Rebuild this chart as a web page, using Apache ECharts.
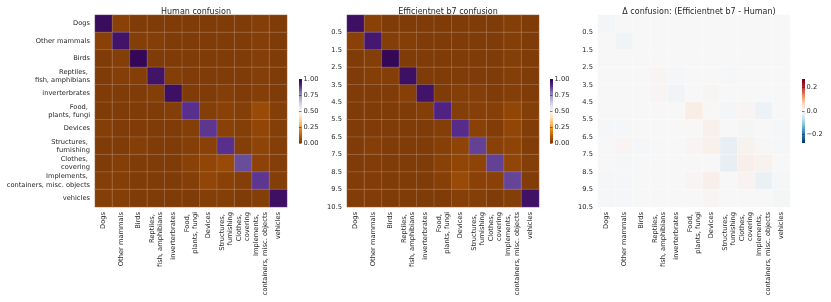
<!DOCTYPE html>
<html>
<head>
<meta charset="utf-8">
<script src="https://cdn.jsdelivr.net/npm/echarts@6/dist/echarts.min.js"></script>
<style>html,body{margin:0;padding:0;background:#fff}#c{width:831px;height:302px}</style>
</head>
<body>
<div id="c"></div>
<script>
// ---------------- data ----------------
const categories = ['Dogs', 'Other mammals', 'Birds', 'Reptiles, \nfish, amphibians', 'inverterbrates',
  'Food, \nplants, fungi', 'Devices', 'Structures, \nfurnishing', 'Clothes, \ncovering',
  'Implements, \ncontainers, misc. objects', 'vehicles'];

const titles = ['Human confusion', 'Efficientnet b7 confusion', '\u0394 confusion: (Efficientnet b7 - Human)'];

const boundaryLabels = ['0.5', '1.5', '2.5', '3.5', '4.5', '5.5', '6.5', '7.5', '8.5', '9.5', '10.5'];

const humanConfusion = [
  [0.97, 0.02, 0.00, 0.00, 0.00, 0.00, 0.00, 0.00, 0.00, 0.01, 0.00],
  [0.02, 0.95, 0.01, 0.01, 0.00, 0.00, 0.00, 0.00, 0.00, 0.01, 0.00],
  [0.00, 0.01, 0.98, 0.00, 0.00, 0.00, 0.00, 0.00, 0.00, 0.01, 0.00],
  [0.00, 0.01, 0.01, 0.95, 0.01, 0.00, 0.00, 0.00, 0.00, 0.01, 0.00],
  [0.00, 0.00, 0.00, 0.01, 0.96, 0.00, 0.00, 0.01, 0.00, 0.01, 0.00],
  [0.00, 0.00, 0.00, 0.00, 0.01, 0.89, 0.01, 0.02, 0.01, 0.05, 0.01],
  [0.01, 0.00, 0.00, 0.00, 0.00, 0.01, 0.88, 0.02, 0.01, 0.035, 0.01],
  [0.00, 0.00, 0.01, 0.00, 0.00, 0.01, 0.02, 0.89, 0.01, 0.03, 0.01],
  [0.00, 0.01, 0.00, 0.00, 0.00, 0.02, 0.035, 0.05, 0.85, 0.025, 0.01],
  [0.01, 0.01, 0.00, 0.00, 0.00, 0.01, 0.035, 0.02, 0.01, 0.88, 0.01],
  [0.01, 0.01, 0.00, 0.00, 0.00, 0.00, 0.01, 0.01, 0.00, 0.01, 0.96]
];

const effnetConfusion = [
  [0.96, 0.02, 0.00, 0.00, 0.00, 0.00, 0.00, 0.00, 0.00, 0.01, 0.00],
  [0.02, 0.94, 0.01, 0.01, 0.00, 0.00, 0.00, 0.00, 0.00, 0.01, 0.00],
  [0.00, 0.01, 0.98, 0.00, 0.00, 0.00, 0.00, 0.00, 0.00, 0.01, 0.00],
  [0.00, 0.01, 0.01, 0.96, 0.00, 0.00, 0.00, 0.00, 0.00, 0.01, 0.00],
  [0.00, 0.00, 0.00, 0.015, 0.95, 0.00, 0.01, 0.01, 0.00, 0.01, 0.00],
  [0.00, 0.00, 0.00, 0.00, 0.01, 0.91, 0.01, 0.015, 0.015, 0.035, 0.01],
  [0.00, 0.00, 0.00, 0.00, 0.00, 0.01, 0.895, 0.02, 0.005, 0.035, 0.005],
  [0.00, 0.01, 0.00, 0.00, 0.00, 0.015, 0.03, 0.865, 0.02, 0.03, 0.005],
  [0.00, 0.005, 0.00, 0.00, 0.00, 0.02, 0.035, 0.03, 0.865, 0.035, 0.01],
  [0.005, 0.005, 0.00, 0.00, 0.00, 0.015, 0.05, 0.02, 0.02, 0.86, 0.005],
  [0.005, 0.005, 0.00, 0.00, 0.00, 0.00, 0.015, 0.01, 0.00, 0.01, 0.955]
];

const deltaConfusion = [
  [-0.005, 0.000, 0.000, 0.000, 0.000, 0.000, 0.000, 0.000, 0.000, 0.000, 0.000],
  [0.000, -0.010, 0.000, 0.000, 0.000, 0.000, 0.000, 0.000, 0.000, 0.000, 0.000],
  [0.000, 0.000, 0.000, 0.000, 0.000, 0.000, 0.000, 0.000, 0.000, 0.000, 0.000],
  [0.000, 0.000, 0.000, 0.005, -0.003, 0.000, 0.000, -0.003, 0.000, 0.000, 0.000],
  [0.000, 0.000, 0.000, 0.005, -0.010, 0.000, 0.003, 0.000, 0.000, 0.000, 0.000],
  [0.000, 0.000, 0.000, 0.000, 0.000, 0.020, 0.002, -0.005, 0.005, -0.015, 0.000],
  [-0.003, -0.003, 0.000, 0.000, 0.000, 0.000, 0.013, 0.000, -0.004, 0.000, -0.003],
  [0.000, 0.005, -0.003, 0.000, 0.000, 0.005, 0.013, -0.023, 0.010, -0.002, -0.003],
  [0.000, -0.003, 0.000, 0.000, 0.000, 0.000, 0.000, -0.023, 0.015, 0.010, 0.000],
  [-0.003, -0.003, 0.000, 0.000, 0.000, 0.005, 0.015, 0.000, 0.008, -0.018, -0.003],
  [-0.003, -0.003, 0.000, 0.000, 0.000, 0.000, 0.005, 0.000, 0.000, 0.000, -0.004]
];

const confTicks = [0, 0.25, 0.5, 0.75, 1];
const confTickLabels = ['0.00', '0.25', '0.50', '0.75', '1.00'];
const deltaTicks = [-0.2, 0, 0.2];
const deltaTickLabels = ['\u22120.2', '0.0', '0.2'];
const confRange = [0, 1];
const deltaRange = [-0.27, 0.27];

// ---------------- styling / layout ----------------
const PuOr = ['#7f3b08', '#b35806', '#e08214', '#fdb863', '#fee0b6', '#f7f7f7', '#d8daeb', '#b2abd2', '#8073ac', '#542788', '#2d004b'];
const RdBu_r = ['#053061', '#2166ac', '#4393c3', '#92c5de', '#d1e5f0', '#f7f7f7', '#fddbc7', '#f4a582', '#d6604d', '#b2182b', '#67001f'];
const FONT = 'DejaVu Sans';
const TXT = '#262626';
const FS = 6.7;
const TFS = 8;
const GRIDS = [
  { left: 95, top: 15, width: 192, height: 192 },
  { left: 347, top: 15, width: 192, height: 192 },
  { left: 598, top: 15, width: 192, height: 192 }
];
const CBARS = [
  { left: 299, top: 79, width: 3, height: 64 },
  { left: 550, top: 79, width: 3, height: 64 },
  { left: 802, top: 79, width: 3, height: 64 }
];

function toData(m) {
  const out = [];
  for (let r = 0; r < m.length; r++) for (let c = 0; c < m[r].length; c++) out.push([c, r, m[r][c]]);
  return out;
}

const grid = [], xAxis = [], yAxis = [], series = [], visualMap = [], title = [], graphic = [];
const mats = [humanConfusion, effnetConfusion, deltaConfusion];

GRIDS.forEach((g, i) => {
  grid.push(Object.assign({ outerBoundsMode: 'none', containLabel: false }, g));
  title.push({
    text: titles[i], left: g.left + g.width / 2, top: 3, textAlign: 'center',
    textStyle: { fontFamily: FONT, fontSize: TFS, fontWeight: 'normal', color: TXT }
  });
  xAxis.push({
    type: 'category', gridIndex: i, data: categories, position: 'bottom',
    axisLine: { show: false }, axisTick: { show: false }, splitLine: { show: false },
    axisLabel: { interval: 0, rotate: 90, margin: 5, fontFamily: FONT, fontSize: FS, color: TXT, lineHeight: 8.3 }
  });
  yAxis.push({
    type: 'category', gridIndex: i, data: categories, inverse: true,
    axisLine: { show: false }, axisTick: { show: false }, splitLine: { show: false },
    axisLabel: i === 0
      ? { interval: 0, margin: 5, fontFamily: FONT, fontSize: FS, color: TXT, lineHeight: 8.3, align: 'right' }
      : { show: false }
  });
  const isDelta = i === 2;
  series.push({
    type: 'heatmap', xAxisIndex: i, yAxisIndex: yAxis.length - 1,
    data: toData(mats[i]),
    itemStyle: { borderColor: isDelta ? 'rgba(255,255,255,0.5)' : 'rgba(255,255,255,0.28)', borderWidth: 0.6 },
    emphasis: { disabled: true }
  });
  visualMap.push({
    show: false, type: 'continuous', seriesIndex: i, dimension: 2,
    min: isDelta ? deltaRange[0] : confRange[0], max: isDelta ? deltaRange[1] : confRange[1],
    inRange: { color: isDelta ? RdBu_r : PuOr }
  });
  if (i > 0) {
    yAxis.push({
      type: 'value', gridIndex: i, min: 0, max: categories.length, interval: 1, inverse: true, position: 'left',
      axisLine: { show: false }, axisTick: { show: false }, splitLine: { show: false },
      axisLabel: {
        margin: 5, fontFamily: FONT, fontSize: FS, color: TXT,
        formatter: v => (v >= 1 ? boundaryLabels[v - 1] : '')
      }
    });
  }
});

CBARS.forEach((cb, i) => {
  const isDelta = i === 2;
  const gi = grid.length;
  grid.push(Object.assign({ outerBoundsMode: 'none', containLabel: false }, cb));
  xAxis.push({ type: 'value', gridIndex: gi, show: false, min: 0, max: 1 });
  const ticks = isDelta ? deltaTicks : confTicks;
  const labels = isDelta ? deltaTickLabels : confTickLabels;
  yAxis.push({
    type: 'value', gridIndex: gi, position: 'right',
    min: isDelta ? deltaRange[0] : confRange[0], max: isDelta ? deltaRange[1] : confRange[1],
    axisLine: { show: false }, splitLine: { show: false },
    axisTick: { show: true, customValues: ticks, length: 2.5, lineStyle: { color: TXT, width: 0.6 } },
    axisLabel: {
      customValues: ticks, margin: 1.5, fontFamily: FONT, fontSize: FS, color: TXT,
      formatter: v => { const k = ticks.findIndex(t => Math.abs(t - v) < 1e-9); return k >= 0 ? labels[k] : ''; }
    }
  });
  const cols = isDelta ? RdBu_r : PuOr;
  graphic.push({
    type: 'rect', shape: { x: cb.left, y: cb.top, width: cb.width, height: cb.height },
    style: {
      fill: new echarts.graphic.LinearGradient(0, 1, 0, 0,
        cols.map((c, k) => ({ offset: k / (cols.length - 1), color: c })))
    },
    silent: true
  });
});

const chart = echarts.init(document.getElementById('c'), null, { renderer: 'canvas' });
chart.setOption({
  backgroundColor: '#ffffff',
  animation: false,
  textStyle: { fontFamily: FONT },
  title, grid, xAxis, yAxis, series, visualMap, graphic
});
</script>
</body>
</html>
